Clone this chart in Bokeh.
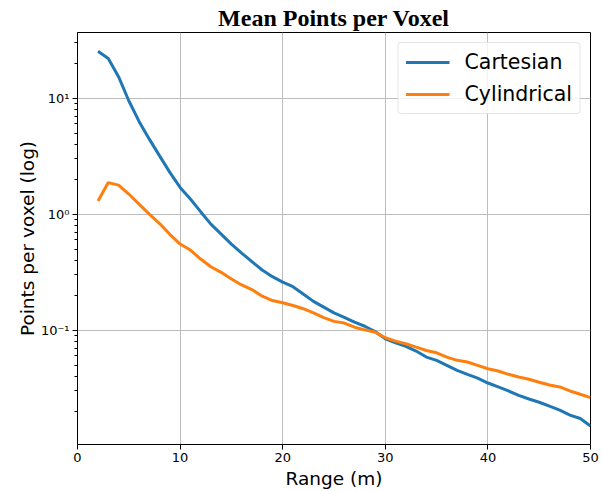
from bokeh.plotting import figure
from bokeh.models import FixedTicker, Legend, LegendItem
from bokeh.embed import file_html
from bokeh.resources import INLINE

range_m = list(range(2, 51))
cartesian = [25.4, 22.0, 15.3, 9.5, 6.3, 4.43, 3.18, 2.29, 1.70, 1.35, 1.05,
             0.82, 0.673, 0.552, 0.462, 0.389, 0.33, 0.289, 0.259, 0.237, 0.205,
             0.177, 0.158, 0.141, 0.129, 0.117, 0.108, 0.0974, 0.0843, 0.0778,
             0.0724, 0.066, 0.0586, 0.0549, 0.0497, 0.045, 0.0416, 0.0386, 0.035,
             0.0324, 0.0299, 0.0274, 0.0255, 0.0239, 0.0221, 0.0204, 0.0185,
             0.0173, 0.0149]
cylindrical = [1.30, 1.87, 1.78, 1.49, 1.22, 1.0, 0.83, 0.67, 0.552, 0.49, 0.41,
               0.352, 0.315, 0.276, 0.245, 0.224, 0.196, 0.18, 0.172, 0.163, 0.153,
               0.141, 0.128, 0.119, 0.115, 0.106, 0.1006, 0.096, 0.086, 0.0804,
               0.0763, 0.0714, 0.0668, 0.0638, 0.0586, 0.0549, 0.0531, 0.0497,
               0.0465, 0.0444, 0.0416, 0.0394, 0.0377, 0.0355, 0.0337, 0.0324,
               0.0299, 0.028, 0.0262]
series_names = ["Cartesian", "Cylindrical"]
colors = ["#1f77b4", "#ff7f0e"]
x_ticks = [0, 10, 20, 30, 40, 50]
y_ticks = [0.1, 1, 10]
y_tick_labels = {0.1: "10\u207b\u00b9", 1: "10\u2070", 10: "10\u00b9"}

p = figure(frame_width=513, frame_height=412, y_axis_type="log",
           x_range=(0, 50), y_range=(0.01033, 36.8),
           output_backend="svg", toolbar_location=None,
           min_border_left=77, min_border_right=12, min_border_top=32, min_border_bottom=47)

p.title.text = "Mean Points per Voxel"
p.title.text_font = "Liberation Serif"
p.title.text_font_style = "bold"
p.title.text_font_size = "24px"
p.title.text_color = "black"
p.title.align = "center"
p.title.standoff = 3

minor = []
for d in [0.01, 0.1, 1, 10]:
    for k in range(2, 10):
        minor.append(d * k)
p.yaxis.ticker = FixedTicker(ticks=y_ticks, minor_ticks=minor)
p.yaxis.major_label_overrides = y_tick_labels
p.xaxis.ticker = FixedTicker(ticks=x_ticks, minor_ticks=[])

for ax in [p.xaxis[0], p.yaxis[0]]:
    ax.major_label_text_font = "DejaVu Sans"
    ax.major_label_text_font_size = "13px"
    ax.major_label_text_color = "black"
    ax.axis_label_text_font = "DejaVu Sans"
    ax.axis_label_text_font_size = "18.5px"
    ax.axis_label_text_font_style = "normal"
    ax.axis_label_text_color = "black"
    ax.axis_line_color = "black"
    ax.major_tick_line_color = "black"
    ax.minor_tick_line_color = "black"
    ax.major_tick_out = 5
    ax.major_tick_in = 0
    ax.minor_tick_out = 3
    ax.minor_tick_in = 0
    ax.major_label_standoff = 3

p.xaxis.axis_label = "Range (m)"
p.yaxis.axis_label = "Points per voxel (log)"
p.xaxis.axis_label_standoff = 3
p.yaxis.axis_label_standoff = 0

p.outline_line_color = "black"
p.outline_line_width = 1
p.outline_line_alpha = 1

p.grid.grid_line_color = "#bdbdbd"
p.grid.grid_line_width = 1
p.grid.grid_line_alpha = 1

r1 = p.line(range_m, cartesian, line_color=colors[0], line_width=3)
r2 = p.line(range_m, cylindrical, line_color=colors[1], line_width=3)

legend = Legend(items=[LegendItem(label=series_names[0], renderers=[r1]),
                       LegendItem(label=series_names[1], renderers=[r2])],
                location="top_right")
legend.label_text_font = "DejaVu Sans"
legend.label_text_font_size = "20.5px"
legend.label_text_color = "black"
legend.glyph_width = 44
legend.glyph_height = 24
legend.label_standoff = 15
legend.spacing = 8
legend.padding = 7
legend.border_line_color = "#cccccc"
legend.background_fill_alpha = 0.8
legend.margin = 10
if "border_radius" in legend.properties():
    legend.border_radius = 4
p.add_layout(legend, "center")

open("out.html", "w").write(file_html(p, INLINE))
